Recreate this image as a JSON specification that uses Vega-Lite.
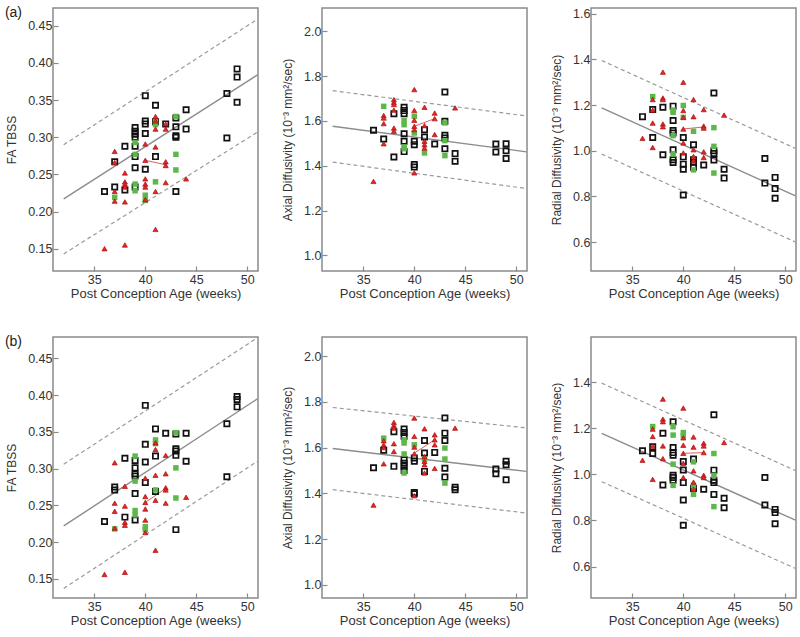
{
"$schema":"https://vega.github.io/schema/vega-lite/v6.json",
"padding":{"left":4,"top":5,"right":0,"bottom":0},
"background":"white",
"datasets":{
"fit":[
{"pan":"a1","kind":"fit","week":32,"val":0.217},{"pan":"a1","kind":"fit","week":51,"val":0.384},
{"pan":"a1","kind":"upper","week":32,"val":0.290},{"pan":"a1","kind":"upper","week":51,"val":0.459},
{"pan":"a1","kind":"lower","week":32,"val":0.143},{"pan":"a1","kind":"lower","week":51,"val":0.307},
{"pan":"a2","kind":"fit","week":32,"val":1.576},{"pan":"a2","kind":"fit","week":51,"val":1.462},
{"pan":"a2","kind":"upper","week":32,"val":1.735},{"pan":"a2","kind":"upper","week":51,"val":1.622},
{"pan":"a2","kind":"lower","week":32,"val":1.416},{"pan":"a2","kind":"lower","week":51,"val":1.298},
{"pan":"a3","kind":"fit","week":32,"val":1.188},{"pan":"a3","kind":"fit","week":51,"val":0.802},
{"pan":"a3","kind":"upper","week":32,"val":1.395},{"pan":"a3","kind":"upper","week":51,"val":1.010},
{"pan":"a3","kind":"lower","week":32,"val":0.985},{"pan":"a3","kind":"lower","week":51,"val":0.600},
{"pan":"b1","kind":"fit","week":32,"val":0.222},{"pan":"b1","kind":"fit","week":51,"val":0.395},
{"pan":"b1","kind":"upper","week":32,"val":0.306},{"pan":"b1","kind":"upper","week":51,"val":0.478},
{"pan":"b1","kind":"lower","week":32,"val":0.137},{"pan":"b1","kind":"lower","week":51,"val":0.310},
{"pan":"b2","kind":"fit","week":32,"val":1.596},{"pan":"b2","kind":"fit","week":51,"val":1.496},
{"pan":"b2","kind":"upper","week":32,"val":1.775},{"pan":"b2","kind":"upper","week":51,"val":1.686},
{"pan":"b2","kind":"lower","week":32,"val":1.416},{"pan":"b2","kind":"lower","week":51,"val":1.314},
{"pan":"b3","kind":"fit","week":32,"val":1.177},{"pan":"b3","kind":"fit","week":51,"val":0.801},
{"pan":"b3","kind":"upper","week":32,"val":1.395},{"pan":"b3","kind":"upper","week":51,"val":1.016},
{"pan":"b3","kind":"lower","week":32,"val":0.968},{"pan":"b3","kind":"lower","week":51,"val":0.592}
],
"pair":[
{"pan":"a1","week":40,"val":0.269},{"pan":"a1","week":42,"val":0.263},
{"pan":"a2","week":40,"val":1.576},{"pan":"a2","week":42,"val":1.610},
{"pan":"a3","week":40,"val":1.095},{"pan":"a3","week":42,"val":1.104},
{"pan":"b1","week":40,"val":0.254},{"pan":"b1","week":42,"val":0.273},
{"pan":"b2","week":40,"val":1.576},{"pan":"b2","week":42,"val":1.634},
{"pan":"b3","week":40,"val":1.091},{"pan":"b3","week":42,"val":1.094}
],
"pts":[
{"pan":"a1","grp":"k","week":36,"val":0.227},{"pan":"a1","grp":"k","week":37,"val":0.267},{"pan":"a1","grp":"k","week":37,"val":0.233},{"pan":"a1","grp":"k","week":38,"val":0.288},{"pan":"a1","grp":"k","week":38,"val":0.229},
{"pan":"a1","grp":"k","week":39,"val":0.313},{"pan":"a1","grp":"k","week":39,"val":0.308},{"pan":"a1","grp":"k","week":39,"val":0.304},{"pan":"a1","grp":"k","week":39,"val":0.300},{"pan":"a1","grp":"k","week":39,"val":0.288},{"pan":"a1","grp":"k","week":39,"val":0.274},{"pan":"a1","grp":"k","week":39,"val":0.259},{"pan":"a1","grp":"k","week":39,"val":0.233},
{"pan":"a1","grp":"k","week":40,"val":0.356},{"pan":"a1","grp":"k","week":40,"val":0.322},{"pan":"a1","grp":"k","week":40,"val":0.318},{"pan":"a1","grp":"k","week":40,"val":0.305},{"pan":"a1","grp":"k","week":40,"val":0.257},
{"pan":"a1","grp":"k","week":41,"val":0.343},{"pan":"a1","grp":"k","week":41,"val":0.321},{"pan":"a1","grp":"k","week":41,"val":0.274},{"pan":"a1","grp":"k","week":42,"val":0.318},
{"pan":"a1","grp":"k","week":43,"val":0.326},{"pan":"a1","grp":"k","week":43,"val":0.314},{"pan":"a1","grp":"k","week":43,"val":0.302},{"pan":"a1","grp":"k","week":43,"val":0.300},{"pan":"a1","grp":"k","week":43,"val":0.227},
{"pan":"a1","grp":"k","week":44,"val":0.337},{"pan":"a1","grp":"k","week":44,"val":0.311},{"pan":"a1","grp":"k","week":48,"val":0.359},{"pan":"a1","grp":"k","week":48,"val":0.299},{"pan":"a1","grp":"k","week":49,"val":0.392},{"pan":"a1","grp":"k","week":49,"val":0.381},{"pan":"a1","grp":"k","week":49,"val":0.347},
{"pan":"a1","grp":"r","week":36,"val":0.150},{"pan":"a1","grp":"r","week":37,"val":0.281},{"pan":"a1","grp":"r","week":37,"val":0.266},{"pan":"a1","grp":"r","week":37,"val":0.227},{"pan":"a1","grp":"r","week":37,"val":0.214},
{"pan":"a1","grp":"r","week":38,"val":0.252},{"pan":"a1","grp":"r","week":38,"val":0.240},{"pan":"a1","grp":"r","week":38,"val":0.237},{"pan":"a1","grp":"r","week":38,"val":0.233},{"pan":"a1","grp":"r","week":38,"val":0.213},{"pan":"a1","grp":"r","week":38,"val":0.155},
{"pan":"a1","grp":"r","week":40,"val":0.291},{"pan":"a1","grp":"r","week":40,"val":0.269},{"pan":"a1","grp":"r","week":40,"val":0.244},{"pan":"a1","grp":"r","week":40,"val":0.237},{"pan":"a1","grp":"r","week":40,"val":0.233},{"pan":"a1","grp":"r","week":40,"val":0.216},
{"pan":"a1","grp":"r","week":41,"val":0.328},{"pan":"a1","grp":"r","week":41,"val":0.322},{"pan":"a1","grp":"r","week":41,"val":0.311},{"pan":"a1","grp":"r","week":41,"val":0.287},{"pan":"a1","grp":"r","week":41,"val":0.227},{"pan":"a1","grp":"r","week":41,"val":0.176},
{"pan":"a1","grp":"r","week":42,"val":0.318},{"pan":"a1","grp":"r","week":42,"val":0.311},{"pan":"a1","grp":"r","week":42,"val":0.267},{"pan":"a1","grp":"r","week":42,"val":0.262},{"pan":"a1","grp":"r","week":42,"val":0.239},{"pan":"a1","grp":"r","week":44,"val":0.244},
{"pan":"a1","grp":"g","week":37,"val":0.219},{"pan":"a1","grp":"g","week":39,"val":0.293},{"pan":"a1","grp":"g","week":39,"val":0.277},{"pan":"a1","grp":"g","week":39,"val":0.237},{"pan":"a1","grp":"g","week":39,"val":0.228},
{"pan":"a1","grp":"g","week":40,"val":0.222},{"pan":"a1","grp":"g","week":40,"val":0.215},{"pan":"a1","grp":"g","week":41,"val":0.321},{"pan":"a1","grp":"g","week":41,"val":0.317},{"pan":"a1","grp":"g","week":41,"val":0.240},
{"pan":"a1","grp":"g","week":43,"val":0.328},{"pan":"a1","grp":"g","week":43,"val":0.277},{"pan":"a1","grp":"g","week":43,"val":0.256},

{"pan":"a2","grp":"k","week":36,"val":1.558},{"pan":"a2","grp":"k","week":37,"val":1.519},{"pan":"a2","grp":"k","week":38,"val":1.632},{"pan":"a2","grp":"k","week":38,"val":1.439},
{"pan":"a2","grp":"k","week":39,"val":1.661},{"pan":"a2","grp":"k","week":39,"val":1.646},{"pan":"a2","grp":"k","week":39,"val":1.632},{"pan":"a2","grp":"k","week":39,"val":1.543},{"pan":"a2","grp":"k","week":39,"val":1.509},{"pan":"a2","grp":"k","week":39,"val":1.463},
{"pan":"a2","grp":"k","week":40,"val":1.509},{"pan":"a2","grp":"k","week":40,"val":1.494},{"pan":"a2","grp":"k","week":40,"val":1.405},{"pan":"a2","grp":"k","week":40,"val":1.394},
{"pan":"a2","grp":"k","week":41,"val":1.561},{"pan":"a2","grp":"k","week":41,"val":1.528},{"pan":"a2","grp":"k","week":42,"val":1.497},
{"pan":"a2","grp":"k","week":43,"val":1.729},{"pan":"a2","grp":"k","week":43,"val":1.598},{"pan":"a2","grp":"k","week":43,"val":1.536},{"pan":"a2","grp":"k","week":43,"val":1.524},{"pan":"a2","grp":"k","week":43,"val":1.476},
{"pan":"a2","grp":"k","week":44,"val":1.454},{"pan":"a2","grp":"k","week":44,"val":1.420},{"pan":"a2","grp":"k","week":48,"val":1.497},{"pan":"a2","grp":"k","week":48,"val":1.461},{"pan":"a2","grp":"k","week":49,"val":1.498},{"pan":"a2","grp":"k","week":49,"val":1.467},{"pan":"a2","grp":"k","week":49,"val":1.432},
{"pan":"a2","grp":"r","week":36,"val":1.330},{"pan":"a2","grp":"r","week":37,"val":1.624},{"pan":"a2","grp":"r","week":37,"val":1.613},{"pan":"a2","grp":"r","week":37,"val":1.588},{"pan":"a2","grp":"r","week":37,"val":1.498},
{"pan":"a2","grp":"r","week":38,"val":1.695},{"pan":"a2","grp":"r","week":38,"val":1.683},{"pan":"a2","grp":"r","week":38,"val":1.673},{"pan":"a2","grp":"r","week":38,"val":1.648},{"pan":"a2","grp":"r","week":38,"val":1.568},{"pan":"a2","grp":"r","week":38,"val":1.554},
{"pan":"a2","grp":"r","week":40,"val":1.740},{"pan":"a2","grp":"r","week":40,"val":1.647},{"pan":"a2","grp":"r","week":40,"val":1.603},{"pan":"a2","grp":"r","week":40,"val":1.576},{"pan":"a2","grp":"r","week":40,"val":1.561},{"pan":"a2","grp":"r","week":40,"val":1.368},
{"pan":"a2","grp":"r","week":41,"val":1.661},{"pan":"a2","grp":"r","week":41,"val":1.579},{"pan":"a2","grp":"r","week":41,"val":1.509},{"pan":"a2","grp":"r","week":41,"val":1.494},{"pan":"a2","grp":"r","week":41,"val":1.479},
{"pan":"a2","grp":"r","week":42,"val":1.635},{"pan":"a2","grp":"r","week":42,"val":1.610},{"pan":"a2","grp":"r","week":42,"val":1.539},{"pan":"a2","grp":"r","week":44,"val":1.658},
{"pan":"a2","grp":"g","week":37,"val":1.665},{"pan":"a2","grp":"g","week":39,"val":1.601},{"pan":"a2","grp":"g","week":39,"val":1.583},{"pan":"a2","grp":"g","week":39,"val":1.484},{"pan":"a2","grp":"g","week":39,"val":1.476},
{"pan":"a2","grp":"g","week":40,"val":1.621},{"pan":"a2","grp":"g","week":40,"val":1.546},{"pan":"a2","grp":"g","week":41,"val":1.457},{"pan":"a2","grp":"g","week":43,"val":1.591},{"pan":"a2","grp":"g","week":43,"val":1.512},{"pan":"a2","grp":"g","week":43,"val":1.445},

{"pan":"a3","grp":"k","week":36,"val":1.149},{"pan":"a3","grp":"k","week":37,"val":1.180},{"pan":"a3","grp":"k","week":37,"val":1.058},{"pan":"a3","grp":"k","week":38,"val":1.190},{"pan":"a3","grp":"k","week":38,"val":0.982},
{"pan":"a3","grp":"k","week":39,"val":1.195},{"pan":"a3","grp":"k","week":39,"val":1.132},{"pan":"a3","grp":"k","week":39,"val":1.088},{"pan":"a3","grp":"k","week":39,"val":1.077},{"pan":"a3","grp":"k","week":39,"val":1.004},{"pan":"a3","grp":"k","week":39,"val":0.960},{"pan":"a3","grp":"k","week":39,"val":0.948},
{"pan":"a3","grp":"k","week":40,"val":1.058},{"pan":"a3","grp":"k","week":40,"val":0.973},{"pan":"a3","grp":"k","week":40,"val":0.941},{"pan":"a3","grp":"k","week":40,"val":0.919},{"pan":"a3","grp":"k","week":40,"val":0.806},
{"pan":"a3","grp":"k","week":41,"val":1.026},{"pan":"a3","grp":"k","week":41,"val":0.960},{"pan":"a3","grp":"k","week":41,"val":0.949},{"pan":"a3","grp":"k","week":41,"val":0.927},{"pan":"a3","grp":"k","week":42,"val":0.937},
{"pan":"a3","grp":"k","week":43,"val":1.253},{"pan":"a3","grp":"k","week":43,"val":1.000},{"pan":"a3","grp":"k","week":43,"val":0.988},{"pan":"a3","grp":"k","week":43,"val":0.959},
{"pan":"a3","grp":"k","week":44,"val":0.919},{"pan":"a3","grp":"k","week":44,"val":0.880},{"pan":"a3","grp":"k","week":48,"val":0.966},{"pan":"a3","grp":"k","week":48,"val":0.858},{"pan":"a3","grp":"k","week":49,"val":0.883},{"pan":"a3","grp":"k","week":49,"val":0.834},{"pan":"a3","grp":"k","week":49,"val":0.792},
{"pan":"a3","grp":"r","week":36,"val":1.054},{"pan":"a3","grp":"r","week":37,"val":1.224},{"pan":"a3","grp":"r","week":37,"val":1.178},{"pan":"a3","grp":"r","week":37,"val":1.121},{"pan":"a3","grp":"r","week":37,"val":1.014},
{"pan":"a3","grp":"r","week":38,"val":1.344},{"pan":"a3","grp":"r","week":38,"val":1.231},{"pan":"a3","grp":"r","week":38,"val":1.224},{"pan":"a3","grp":"r","week":38,"val":1.117},{"pan":"a3","grp":"r","week":38,"val":1.105},
{"pan":"a3","grp":"r","week":40,"val":1.300},{"pan":"a3","grp":"r","week":40,"val":1.176},{"pan":"a3","grp":"r","week":40,"val":1.146},{"pan":"a3","grp":"r","week":40,"val":1.095},{"pan":"a3","grp":"r","week":40,"val":1.034},{"pan":"a3","grp":"r","week":40,"val":0.990},
{"pan":"a3","grp":"r","week":41,"val":1.224},{"pan":"a3","grp":"r","week":41,"val":1.149},{"pan":"a3","grp":"r","week":41,"val":1.004},{"pan":"a3","grp":"r","week":41,"val":0.975},{"pan":"a3","grp":"r","week":41,"val":0.956},
{"pan":"a3","grp":"r","week":42,"val":1.180},{"pan":"a3","grp":"r","week":42,"val":1.108},{"pan":"a3","grp":"r","week":42,"val":1.099},{"pan":"a3","grp":"r","week":42,"val":0.995},{"pan":"a3","grp":"r","week":42,"val":0.970},{"pan":"a3","grp":"r","week":44,"val":1.156},
{"pan":"a3","grp":"g","week":37,"val":1.237},{"pan":"a3","grp":"g","week":39,"val":1.178},{"pan":"a3","grp":"g","week":39,"val":1.168},{"pan":"a3","grp":"g","week":39,"val":1.066},{"pan":"a3","grp":"g","week":39,"val":0.985},
{"pan":"a3","grp":"g","week":40,"val":1.198},{"pan":"a3","grp":"g","week":40,"val":1.146},{"pan":"a3","grp":"g","week":41,"val":1.085},{"pan":"a3","grp":"g","week":41,"val":0.916},{"pan":"a3","grp":"g","week":43,"val":1.101},{"pan":"a3","grp":"g","week":43,"val":1.019},{"pan":"a3","grp":"g","week":43,"val":0.902},

{"pan":"b1","grp":"k","week":36,"val":0.228},{"pan":"b1","grp":"k","week":37,"val":0.275},{"pan":"b1","grp":"k","week":37,"val":0.271},{"pan":"b1","grp":"k","week":38,"val":0.314},{"pan":"b1","grp":"k","week":38,"val":0.234},
{"pan":"b1","grp":"k","week":39,"val":0.311},{"pan":"b1","grp":"k","week":39,"val":0.301},{"pan":"b1","grp":"k","week":39,"val":0.293},{"pan":"b1","grp":"k","week":39,"val":0.290},{"pan":"b1","grp":"k","week":39,"val":0.266},{"pan":"b1","grp":"k","week":39,"val":0.230},
{"pan":"b1","grp":"k","week":40,"val":0.386},{"pan":"b1","grp":"k","week":40,"val":0.333},{"pan":"b1","grp":"k","week":40,"val":0.309},{"pan":"b1","grp":"k","week":40,"val":0.281},
{"pan":"b1","grp":"k","week":41,"val":0.354},{"pan":"b1","grp":"k","week":41,"val":0.317},{"pan":"b1","grp":"k","week":41,"val":0.269},{"pan":"b1","grp":"k","week":42,"val":0.348},
{"pan":"b1","grp":"k","week":43,"val":0.347},{"pan":"b1","grp":"k","week":43,"val":0.327},{"pan":"b1","grp":"k","week":43,"val":0.324},{"pan":"b1","grp":"k","week":43,"val":0.318},{"pan":"b1","grp":"k","week":43,"val":0.217},
{"pan":"b1","grp":"k","week":44,"val":0.348},{"pan":"b1","grp":"k","week":44,"val":0.310},{"pan":"b1","grp":"k","week":48,"val":0.361},{"pan":"b1","grp":"k","week":48,"val":0.289},{"pan":"b1","grp":"k","week":49,"val":0.398},{"pan":"b1","grp":"k","week":49,"val":0.394},{"pan":"b1","grp":"k","week":49,"val":0.384},
{"pan":"b1","grp":"r","week":36,"val":0.156},{"pan":"b1","grp":"r","week":37,"val":0.308},{"pan":"b1","grp":"r","week":37,"val":0.253},{"pan":"b1","grp":"r","week":37,"val":0.242},{"pan":"b1","grp":"r","week":37,"val":0.219},
{"pan":"b1","grp":"r","week":38,"val":0.276},{"pan":"b1","grp":"r","week":38,"val":0.249},{"pan":"b1","grp":"r","week":38,"val":0.227},{"pan":"b1","grp":"r","week":38,"val":0.223},{"pan":"b1","grp":"r","week":38,"val":0.159},
{"pan":"b1","grp":"r","week":40,"val":0.287},{"pan":"b1","grp":"r","week":40,"val":0.262},{"pan":"b1","grp":"r","week":40,"val":0.254},{"pan":"b1","grp":"r","week":40,"val":0.245},{"pan":"b1","grp":"r","week":40,"val":0.230},{"pan":"b1","grp":"r","week":40,"val":0.213},
{"pan":"b1","grp":"r","week":41,"val":0.335},{"pan":"b1","grp":"r","week":41,"val":0.326},{"pan":"b1","grp":"r","week":41,"val":0.291},{"pan":"b1","grp":"r","week":41,"val":0.257},{"pan":"b1","grp":"r","week":41,"val":0.189},
{"pan":"b1","grp":"r","week":42,"val":0.318},{"pan":"b1","grp":"r","week":42,"val":0.293},{"pan":"b1","grp":"r","week":42,"val":0.274},{"pan":"b1","grp":"r","week":42,"val":0.271},{"pan":"b1","grp":"r","week":42,"val":0.253},{"pan":"b1","grp":"r","week":44,"val":0.261},
{"pan":"b1","grp":"g","week":37,"val":0.218},{"pan":"b1","grp":"g","week":39,"val":0.317},{"pan":"b1","grp":"g","week":39,"val":0.283},{"pan":"b1","grp":"g","week":39,"val":0.243},{"pan":"b1","grp":"g","week":39,"val":0.237},
{"pan":"b1","grp":"g","week":40,"val":0.221},{"pan":"b1","grp":"g","week":40,"val":0.217},{"pan":"b1","grp":"g","week":41,"val":0.339},{"pan":"b1","grp":"g","week":41,"val":0.334},{"pan":"b1","grp":"g","week":41,"val":0.271},
{"pan":"b1","grp":"g","week":43,"val":0.349},{"pan":"b1","grp":"g","week":43,"val":0.301},{"pan":"b1","grp":"g","week":43,"val":0.260},

{"pan":"b2","grp":"k","week":36,"val":1.512},{"pan":"b2","grp":"k","week":37,"val":1.588},{"pan":"b2","grp":"k","week":38,"val":1.669},{"pan":"b2","grp":"k","week":38,"val":1.518},
{"pan":"b2","grp":"k","week":39,"val":1.681},{"pan":"b2","grp":"k","week":39,"val":1.666},{"pan":"b2","grp":"k","week":39,"val":1.649},{"pan":"b2","grp":"k","week":39,"val":1.547},{"pan":"b2","grp":"k","week":39,"val":1.532},{"pan":"b2","grp":"k","week":39,"val":1.518},{"pan":"b2","grp":"k","week":39,"val":1.500},
{"pan":"b2","grp":"k","week":40,"val":1.554},{"pan":"b2","grp":"k","week":40,"val":1.540},{"pan":"b2","grp":"k","week":40,"val":1.404},{"pan":"b2","grp":"k","week":40,"val":1.398},
{"pan":"b2","grp":"k","week":41,"val":1.631},{"pan":"b2","grp":"k","week":41,"val":1.576},{"pan":"b2","grp":"k","week":41,"val":1.496},{"pan":"b2","grp":"k","week":42,"val":1.579},
{"pan":"b2","grp":"k","week":43,"val":1.729},{"pan":"b2","grp":"k","week":43,"val":1.663},{"pan":"b2","grp":"k","week":43,"val":1.631},{"pan":"b2","grp":"k","week":43,"val":1.510},{"pan":"b2","grp":"k","week":43,"val":1.471},
{"pan":"b2","grp":"k","week":44,"val":1.427},{"pan":"b2","grp":"k","week":44,"val":1.416},{"pan":"b2","grp":"k","week":48,"val":1.506},{"pan":"b2","grp":"k","week":48,"val":1.486},{"pan":"b2","grp":"k","week":49,"val":1.540},{"pan":"b2","grp":"k","week":49,"val":1.525},{"pan":"b2","grp":"k","week":49,"val":1.459},
{"pan":"b2","grp":"r","week":36,"val":1.349},{"pan":"b2","grp":"r","week":37,"val":1.630},{"pan":"b2","grp":"r","week":37,"val":1.612},{"pan":"b2","grp":"r","week":37,"val":1.600},{"pan":"b2","grp":"r","week":37,"val":1.529},
{"pan":"b2","grp":"r","week":38,"val":1.710},{"pan":"b2","grp":"r","week":38,"val":1.697},{"pan":"b2","grp":"r","week":38,"val":1.685},{"pan":"b2","grp":"r","week":38,"val":1.617},{"pan":"b2","grp":"r","week":38,"val":1.583},
{"pan":"b2","grp":"r","week":40,"val":1.729},{"pan":"b2","grp":"r","week":40,"val":1.649},{"pan":"b2","grp":"r","week":40,"val":1.602},{"pan":"b2","grp":"r","week":40,"val":1.573},{"pan":"b2","grp":"r","week":40,"val":1.390},
{"pan":"b2","grp":"r","week":41,"val":1.682},{"pan":"b2","grp":"r","week":41,"val":1.561},{"pan":"b2","grp":"r","week":41,"val":1.540},{"pan":"b2","grp":"r","week":41,"val":1.525},{"pan":"b2","grp":"r","week":41,"val":1.489},
{"pan":"b2","grp":"r","week":42,"val":1.656},{"pan":"b2","grp":"r","week":42,"val":1.634},{"pan":"b2","grp":"r","week":42,"val":1.612},{"pan":"b2","grp":"r","week":42,"val":1.509},{"pan":"b2","grp":"r","week":44,"val":1.685},
{"pan":"b2","grp":"g","week":37,"val":1.641},{"pan":"b2","grp":"g","week":39,"val":1.634},{"pan":"b2","grp":"g","week":39,"val":1.620},{"pan":"b2","grp":"g","week":39,"val":1.572},{"pan":"b2","grp":"g","week":39,"val":1.489},
{"pan":"b2","grp":"g","week":40,"val":1.612},{"pan":"b2","grp":"g","week":41,"val":1.550},{"pan":"b2","grp":"g","week":43,"val":1.598},{"pan":"b2","grp":"g","week":43,"val":1.550},{"pan":"b2","grp":"g","week":43,"val":1.445},

{"pan":"b3","grp":"k","week":36,"val":1.102},{"pan":"b3","grp":"k","week":37,"val":1.119},{"pan":"b3","grp":"k","week":37,"val":1.090},{"pan":"b3","grp":"k","week":38,"val":1.178},{"pan":"b3","grp":"k","week":38,"val":0.954},
{"pan":"b3","grp":"k","week":39,"val":1.228},{"pan":"b3","grp":"k","week":39,"val":1.116},{"pan":"b3","grp":"k","week":39,"val":1.094},{"pan":"b3","grp":"k","week":39,"val":1.083},{"pan":"b3","grp":"k","week":39,"val":0.996},{"pan":"b3","grp":"k","week":39,"val":0.986},{"pan":"b3","grp":"k","week":39,"val":0.974},
{"pan":"b3","grp":"k","week":40,"val":1.055},{"pan":"b3","grp":"k","week":40,"val":1.019},{"pan":"b3","grp":"k","week":40,"val":0.964},{"pan":"b3","grp":"k","week":40,"val":0.889},{"pan":"b3","grp":"k","week":40,"val":0.779},
{"pan":"b3","grp":"k","week":41,"val":1.066},{"pan":"b3","grp":"k","week":41,"val":0.938},{"pan":"b3","grp":"k","week":42,"val":0.935},
{"pan":"b3","grp":"k","week":43,"val":1.258},{"pan":"b3","grp":"k","week":43,"val":1.018},{"pan":"b3","grp":"k","week":43,"val":0.974},{"pan":"b3","grp":"k","week":43,"val":0.964},{"pan":"b3","grp":"k","week":43,"val":0.913},
{"pan":"b3","grp":"k","week":44,"val":0.896},{"pan":"b3","grp":"k","week":44,"val":0.855},{"pan":"b3","grp":"k","week":48,"val":0.986},{"pan":"b3","grp":"k","week":48,"val":0.867},{"pan":"b3","grp":"k","week":49,"val":0.848},{"pan":"b3","grp":"k","week":49,"val":0.834},{"pan":"b3","grp":"k","week":49,"val":0.786},
{"pan":"b3","grp":"r","week":36,"val":1.061},{"pan":"b3","grp":"r","week":37,"val":1.196},{"pan":"b3","grp":"r","week":37,"val":1.164},{"pan":"b3","grp":"r","week":37,"val":1.122},{"pan":"b3","grp":"r","week":37,"val":0.978},
{"pan":"b3","grp":"r","week":38,"val":1.326},{"pan":"b3","grp":"r","week":38,"val":1.239},{"pan":"b3","grp":"r","week":38,"val":1.228},{"pan":"b3","grp":"r","week":38,"val":1.123},{"pan":"b3","grp":"r","week":38,"val":1.068},
{"pan":"b3","grp":"r","week":40,"val":1.287},{"pan":"b3","grp":"r","week":40,"val":1.158},{"pan":"b3","grp":"r","week":40,"val":1.126},{"pan":"b3","grp":"r","week":40,"val":1.091},{"pan":"b3","grp":"r","week":40,"val":1.048},{"pan":"b3","grp":"r","week":40,"val":0.986},
{"pan":"b3","grp":"r","week":41,"val":1.162},{"pan":"b3","grp":"r","week":41,"val":1.118},{"pan":"b3","grp":"r","week":41,"val":1.015},{"pan":"b3","grp":"r","week":41,"val":0.966},{"pan":"b3","grp":"r","week":41,"val":0.935},
{"pan":"b3","grp":"r","week":42,"val":1.135},{"pan":"b3","grp":"r","week":42,"val":1.123},{"pan":"b3","grp":"r","week":42,"val":1.094},{"pan":"b3","grp":"r","week":42,"val":0.996},{"pan":"b3","grp":"r","week":42,"val":0.986},{"pan":"b3","grp":"r","week":44,"val":1.138},
{"pan":"b3","grp":"g","week":37,"val":1.207},{"pan":"b3","grp":"g","week":39,"val":1.206},{"pan":"b3","grp":"g","week":39,"val":1.170},{"pan":"b3","grp":"g","week":39,"val":1.044},{"pan":"b3","grp":"g","week":39,"val":0.952},
{"pan":"b3","grp":"g","week":40,"val":1.181},{"pan":"b3","grp":"g","week":40,"val":1.167},{"pan":"b3","grp":"g","week":41,"val":1.054},{"pan":"b3","grp":"g","week":41,"val":0.952},{"pan":"b3","grp":"g","week":41,"val":0.913},
{"pan":"b3","grp":"g","week":43,"val":1.090},{"pan":"b3","grp":"g","week":43,"val":0.996},{"pan":"b3","grp":"g","week":43,"val":0.860}
]
},
"spacing":33,
"vconcat":[
{"title":{"text":"(a)","anchor":"start","frame":"bounds","fontSize":14,"fontWeight":"normal","color":"#222","offset":-13},
 "spacing":21,
 "hconcat":[
  {"width":205,"height":263,
   "encoding":{"x":{"field":"week","type":"quantitative","scale":{"domain":[30.95,51.05],"nice":false,"zero":false},"axis":{"values":[35,40,45,50],"title":"Post Conception Age (weeks)"}},
               "y":{"field":"val","type":"quantitative","scale":{"domain":[0.12,0.474],"nice":false,"zero":false},"axis":{"values":[0.15,0.2,0.25,0.3,0.35,0.4,0.45],"format":".2f","title":"FA TBSS"}}},
   "layer":[
    {"data":{"name":"fit"},"transform":[{"filter":"datum.pan=='a1' && datum.kind!='fit'"}],"mark":{"type":"line","clip":true,"color":"#9a9a9a","strokeWidth":1.2,"strokeDash":[4,3]},"encoding":{"detail":{"field":"kind"}}},
    {"data":{"name":"fit"},"transform":[{"filter":"datum.pan=='a1' && datum.kind=='fit'"}],"mark":{"type":"line","clip":true,"color":"#8c8c8c","strokeWidth":1.4},"encoding":{}},
    {"data":{"name":"pair"},"transform":[{"filter":"datum.pan=='a1'"}],"mark":{"type":"line","color":"#e06060","strokeWidth":1},"encoding":{}},
    {"data":{"name":"pts"},"transform":[{"filter":"datum.pan=='a1' && datum.grp=='k'"}],"mark":{"type":"point","shape":"square","filled":false,"color":"#111","strokeWidth":1.7,"size":28,"opacity":1},"encoding":{}},
    {"data":{"name":"pts"},"transform":[{"filter":"datum.pan=='a1' && datum.grp=='g'"}],"mark":{"type":"square","color":"#5cb84a","size":30,"opacity":1},"encoding":{}},
    {"data":{"name":"pts"},"transform":[{"filter":"datum.pan=='a1' && datum.grp=='r'"}],"mark":{"type":"point","shape":"triangle-up","filled":true,"fill":"#e8262a","stroke":"#a81010","strokeWidth":0.7,"size":26,"opacity":1},"encoding":{}}
   ]},
  {"width":205,"height":263,
   "encoding":{"x":{"field":"week","type":"quantitative","scale":{"domain":[30.95,51.05],"nice":false,"zero":false},"axis":{"values":[35,40,45,50],"title":"Post Conception Age (weeks)"}},
               "y":{"field":"val","type":"quantitative","scale":{"domain":[0.93,2.104],"nice":false,"zero":false},"axis":{"values":[1.0,1.2,1.4,1.6,1.8,2.0],"format":".1f","title":"Axial Diffusivity (10⁻³ mm²/sec)"}}},
   "layer":[
    {"data":{"name":"fit"},"transform":[{"filter":"datum.pan=='a2' && datum.kind!='fit'"}],"mark":{"type":"line","clip":true,"color":"#9a9a9a","strokeWidth":1.2,"strokeDash":[4,3]},"encoding":{"detail":{"field":"kind"}}},
    {"data":{"name":"fit"},"transform":[{"filter":"datum.pan=='a2' && datum.kind=='fit'"}],"mark":{"type":"line","clip":true,"color":"#8c8c8c","strokeWidth":1.4},"encoding":{}},
    {"data":{"name":"pair"},"transform":[{"filter":"datum.pan=='a2'"}],"mark":{"type":"line","color":"#e06060","strokeWidth":1},"encoding":{}},
    {"data":{"name":"pts"},"transform":[{"filter":"datum.pan=='a2' && datum.grp=='k'"}],"mark":{"type":"point","shape":"square","filled":false,"color":"#111","strokeWidth":1.7,"size":28,"opacity":1},"encoding":{}},
    {"data":{"name":"pts"},"transform":[{"filter":"datum.pan=='a2' && datum.grp=='g'"}],"mark":{"type":"square","color":"#5cb84a","size":30,"opacity":1},"encoding":{}},
    {"data":{"name":"pts"},"transform":[{"filter":"datum.pan=='a2' && datum.grp=='r'"}],"mark":{"type":"point","shape":"triangle-up","filled":true,"fill":"#e8262a","stroke":"#a81010","strokeWidth":0.7,"size":26,"opacity":1},"encoding":{}}
   ]},
  {"width":205,"height":263,
   "encoding":{"x":{"field":"week","type":"quantitative","scale":{"domain":[30.95,51.05],"nice":false,"zero":false},"axis":{"values":[35,40,45,50],"title":"Post Conception Age (weeks)"}},
               "y":{"field":"val","type":"quantitative","scale":{"domain":[0.473,1.625],"nice":false,"zero":false},"axis":{"values":[0.6,0.8,1.0,1.2,1.4,1.6],"format":".1f","title":"Radial Diffusivity (10⁻³ mm²/sec)"}}},
   "layer":[
    {"data":{"name":"fit"},"transform":[{"filter":"datum.pan=='a3' && datum.kind!='fit'"}],"mark":{"type":"line","clip":true,"color":"#9a9a9a","strokeWidth":1.2,"strokeDash":[4,3]},"encoding":{"detail":{"field":"kind"}}},
    {"data":{"name":"fit"},"transform":[{"filter":"datum.pan=='a3' && datum.kind=='fit'"}],"mark":{"type":"line","clip":true,"color":"#8c8c8c","strokeWidth":1.4},"encoding":{}},
    {"data":{"name":"pair"},"transform":[{"filter":"datum.pan=='a3'"}],"mark":{"type":"line","color":"#e06060","strokeWidth":1},"encoding":{}},
    {"data":{"name":"pts"},"transform":[{"filter":"datum.pan=='a3' && datum.grp=='k'"}],"mark":{"type":"point","shape":"square","filled":false,"color":"#111","strokeWidth":1.7,"size":28,"opacity":1},"encoding":{}},
    {"data":{"name":"pts"},"transform":[{"filter":"datum.pan=='a3' && datum.grp=='g'"}],"mark":{"type":"square","color":"#5cb84a","size":30,"opacity":1},"encoding":{}},
    {"data":{"name":"pts"},"transform":[{"filter":"datum.pan=='a3' && datum.grp=='r'"}],"mark":{"type":"point","shape":"triangle-up","filled":true,"fill":"#e8262a","stroke":"#a81010","strokeWidth":0.7,"size":26,"opacity":1},"encoding":{}}
   ]}
 ]},
{"title":{"text":"(b)","anchor":"start","frame":"bounds","fontSize":14,"fontWeight":"normal","color":"#222","offset":-13},
 "spacing":21,
 "hconcat":[
  {"width":205,"height":261,
   "encoding":{"x":{"field":"week","type":"quantitative","scale":{"domain":[30.95,51.05],"nice":false,"zero":false},"axis":{"values":[35,40,45,50],"title":"Post Conception Age (weeks)"}},
               "y":{"field":"val","type":"quantitative","scale":{"domain":[0.124,0.479],"nice":false,"zero":false},"axis":{"values":[0.15,0.2,0.25,0.3,0.35,0.4,0.45],"format":".2f","title":"FA TBSS"}}},
   "layer":[
    {"data":{"name":"fit"},"transform":[{"filter":"datum.pan=='b1' && datum.kind!='fit'"}],"mark":{"type":"line","clip":true,"color":"#9a9a9a","strokeWidth":1.2,"strokeDash":[4,3]},"encoding":{"detail":{"field":"kind"}}},
    {"data":{"name":"fit"},"transform":[{"filter":"datum.pan=='b1' && datum.kind=='fit'"}],"mark":{"type":"line","clip":true,"color":"#8c8c8c","strokeWidth":1.4},"encoding":{}},
    {"data":{"name":"pair"},"transform":[{"filter":"datum.pan=='b1'"}],"mark":{"type":"line","color":"#e06060","strokeWidth":1},"encoding":{}},
    {"data":{"name":"pts"},"transform":[{"filter":"datum.pan=='b1' && datum.grp=='k'"}],"mark":{"type":"point","shape":"square","filled":false,"color":"#111","strokeWidth":1.7,"size":28,"opacity":1},"encoding":{}},
    {"data":{"name":"pts"},"transform":[{"filter":"datum.pan=='b1' && datum.grp=='g'"}],"mark":{"type":"square","color":"#5cb84a","size":30,"opacity":1},"encoding":{}},
    {"data":{"name":"pts"},"transform":[{"filter":"datum.pan=='b1' && datum.grp=='r'"}],"mark":{"type":"point","shape":"triangle-up","filled":true,"fill":"#e8262a","stroke":"#a81010","strokeWidth":0.7,"size":26,"opacity":1},"encoding":{}}
   ]},
  {"width":205,"height":261,
   "encoding":{"x":{"field":"week","type":"quantitative","scale":{"domain":[30.95,51.05],"nice":false,"zero":false},"axis":{"values":[35,40,45,50],"title":"Post Conception Age (weeks)"}},
               "y":{"field":"val","type":"quantitative","scale":{"domain":[0.943,2.083],"nice":false,"zero":false},"axis":{"values":[1.0,1.2,1.4,1.6,1.8,2.0],"format":".1f","title":"Axial Diffusivity (10⁻³ mm²/sec)"}}},
   "layer":[
    {"data":{"name":"fit"},"transform":[{"filter":"datum.pan=='b2' && datum.kind!='fit'"}],"mark":{"type":"line","clip":true,"color":"#9a9a9a","strokeWidth":1.2,"strokeDash":[4,3]},"encoding":{"detail":{"field":"kind"}}},
    {"data":{"name":"fit"},"transform":[{"filter":"datum.pan=='b2' && datum.kind=='fit'"}],"mark":{"type":"line","clip":true,"color":"#8c8c8c","strokeWidth":1.4},"encoding":{}},
    {"data":{"name":"pair"},"transform":[{"filter":"datum.pan=='b2'"}],"mark":{"type":"line","color":"#e06060","strokeWidth":1},"encoding":{}},
    {"data":{"name":"pts"},"transform":[{"filter":"datum.pan=='b2' && datum.grp=='k'"}],"mark":{"type":"point","shape":"square","filled":false,"color":"#111","strokeWidth":1.7,"size":28,"opacity":1},"encoding":{}},
    {"data":{"name":"pts"},"transform":[{"filter":"datum.pan=='b2' && datum.grp=='g'"}],"mark":{"type":"square","color":"#5cb84a","size":30,"opacity":1},"encoding":{}},
    {"data":{"name":"pts"},"transform":[{"filter":"datum.pan=='b2' && datum.grp=='r'"}],"mark":{"type":"point","shape":"triangle-up","filled":true,"fill":"#e8262a","stroke":"#a81010","strokeWidth":0.7,"size":26,"opacity":1},"encoding":{}}
   ]},
  {"width":205,"height":261,
   "encoding":{"x":{"field":"week","type":"quantitative","scale":{"domain":[30.95,51.05],"nice":false,"zero":false},"axis":{"values":[35,40,45,50],"title":"Post Conception Age (weeks)"}},
               "y":{"field":"val","type":"quantitative","scale":{"domain":[0.464,1.595],"nice":false,"zero":false},"axis":{"values":[0.6,0.8,1.0,1.2,1.4],"format":".1f","title":"Radial Diffusivity (10⁻³ mm²/sec)"}}},
   "layer":[
    {"data":{"name":"fit"},"transform":[{"filter":"datum.pan=='b3' && datum.kind!='fit'"}],"mark":{"type":"line","clip":true,"color":"#9a9a9a","strokeWidth":1.2,"strokeDash":[4,3]},"encoding":{"detail":{"field":"kind"}}},
    {"data":{"name":"fit"},"transform":[{"filter":"datum.pan=='b3' && datum.kind=='fit'"}],"mark":{"type":"line","clip":true,"color":"#8c8c8c","strokeWidth":1.4},"encoding":{}},
    {"data":{"name":"pair"},"transform":[{"filter":"datum.pan=='b3'"}],"mark":{"type":"line","color":"#e06060","strokeWidth":1},"encoding":{}},
    {"data":{"name":"pts"},"transform":[{"filter":"datum.pan=='b3' && datum.grp=='k'"}],"mark":{"type":"point","shape":"square","filled":false,"color":"#111","strokeWidth":1.7,"size":28,"opacity":1},"encoding":{}},
    {"data":{"name":"pts"},"transform":[{"filter":"datum.pan=='b3' && datum.grp=='g'"}],"mark":{"type":"square","color":"#5cb84a","size":30,"opacity":1},"encoding":{}},
    {"data":{"name":"pts"},"transform":[{"filter":"datum.pan=='b3' && datum.grp=='r'"}],"mark":{"type":"point","shape":"triangle-up","filled":true,"fill":"#e8262a","stroke":"#a81010","strokeWidth":0.7,"size":26,"opacity":1},"encoding":{}}
   ]}
 ]}
],
"config":{
 "font":"Liberation Sans",
 "view":{"stroke":"#8a8a8a","strokeWidth":1.5},
 "axis":{"domain":false,"grid":false,"ticks":true,"tickSize":-5,"tickColor":"#8a8a8a","tickWidth":1.2,"labelFont":"Liberation Sans","labelFontSize":12.5,"labelColor":"#333","titleFont":"Liberation Sans","titleFontSize":12,"titleFontWeight":"normal","titleColor":"#333"},
 "axisX":{"labelPadding":7,"titlePadding":2,"titleFontSize":13},
 "axisY":{"labelPadding":6,"titlePadding":9}
}
}
